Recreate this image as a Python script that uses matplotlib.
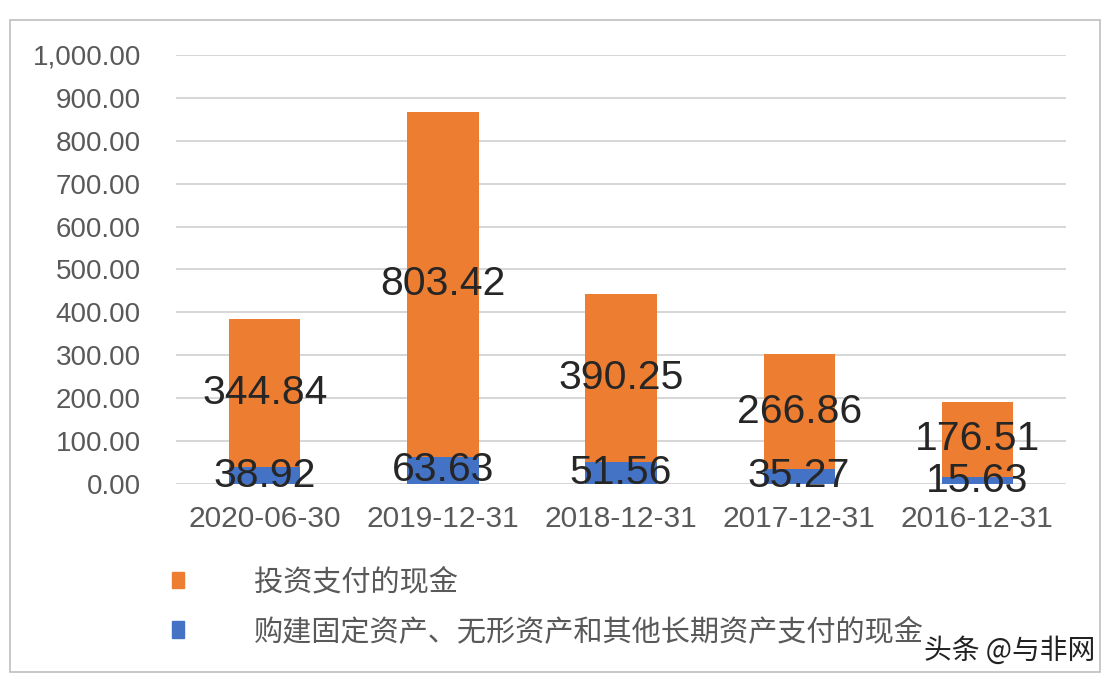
import matplotlib.pyplot as plt
from matplotlib.patches import Rectangle, Patch

plt.rcParams['font.family'] = ['Liberation Sans', 'Noto Sans CJK SC', 'DejaVu Sans']

dates = ['2020-06-30', '2019-12-31', '2018-12-31', '2017-12-31', '2016-12-31']
fixed_assets = [38.92, 63.63, 51.56, 35.27, 15.63]
investments = [344.84, 803.42, 390.25, 266.86, 176.51]
yticks = [0, 100, 200, 300, 400, 500, 600, 700, 800, 900, 1000]

orange = '#ED7D31'
blue = '#4472C4'

fig = plt.figure(figsize=(11.12, 6.86), dpi=100)
ax = fig.add_axes([0.158, 0.2945, 0.801, 0.6255])

x = range(len(dates))
ax.bar(x, fixed_assets, width=0.4, color=blue, zorder=2)
ax.bar(x, investments, width=0.4, bottom=fixed_assets, color=orange, zorder=2)

# labels in the middle of each segment
for i in x:
    ax.text(i, fixed_assets[i] / 2, f'{fixed_assets[i]:.2f}', ha='center', va='center',
            fontsize=29.5, color='#262626', zorder=3)
    ax.text(i, fixed_assets[i] + investments[i] / 2, f'{investments[i]:.2f}', ha='center',
            va='center', fontsize=29.5, color='#262626', zorder=3)

ax.set_xlim(-0.5, len(dates) - 0.5)
ax.set_ylim(0, 1000)
ax.set_yticks(yticks)
ax.set_yticklabels([f'{v:,.2f}' for v in yticks])
ax.set_xticks(list(x))
ax.set_xticklabels(dates)
ax.tick_params(axis='y', length=0, labelsize=20, labelcolor='#595959', pad=25)
ax.tick_params(axis='x', length=0, labelsize=21.5, labelcolor='#595959', pad=15)
ax.grid(axis='y', color='#d0d0d0', linewidth=1.2, zorder=0)
for s in ax.spines.values():
    s.set_visible(False)

handles = [Patch(color=orange), Patch(color=blue)]
labels = ['投资支付的现金', '购建固定资产、无形资产和其他长期资产支付的现金']
fig.legend(handles, labels, loc='center left', bbox_to_anchor=(0.131, 0.115),
           frameon=False, fontsize=21, labelcolor='#595959', handlelength=0.4,
           handleheight=0.5, handletextpad=2.4, labelspacing=0.75)

# outer frame
fig.patches.append(Rectangle((10 / 1112, 1 - 672 / 686), 1090 / 1112, 652 / 686,
                             transform=fig.transFigure, fill=False,
                             edgecolor='#bfbfbf', linewidth=1.2))

# watermark
fig.text(0.985, 0.03, '头条 @与非网', ha='right', va='bottom', fontsize=20,
         color='#222222', family=['Noto Sans CJK SC', 'DejaVu Sans'])

fig.savefig('out.png', dpi=100)
